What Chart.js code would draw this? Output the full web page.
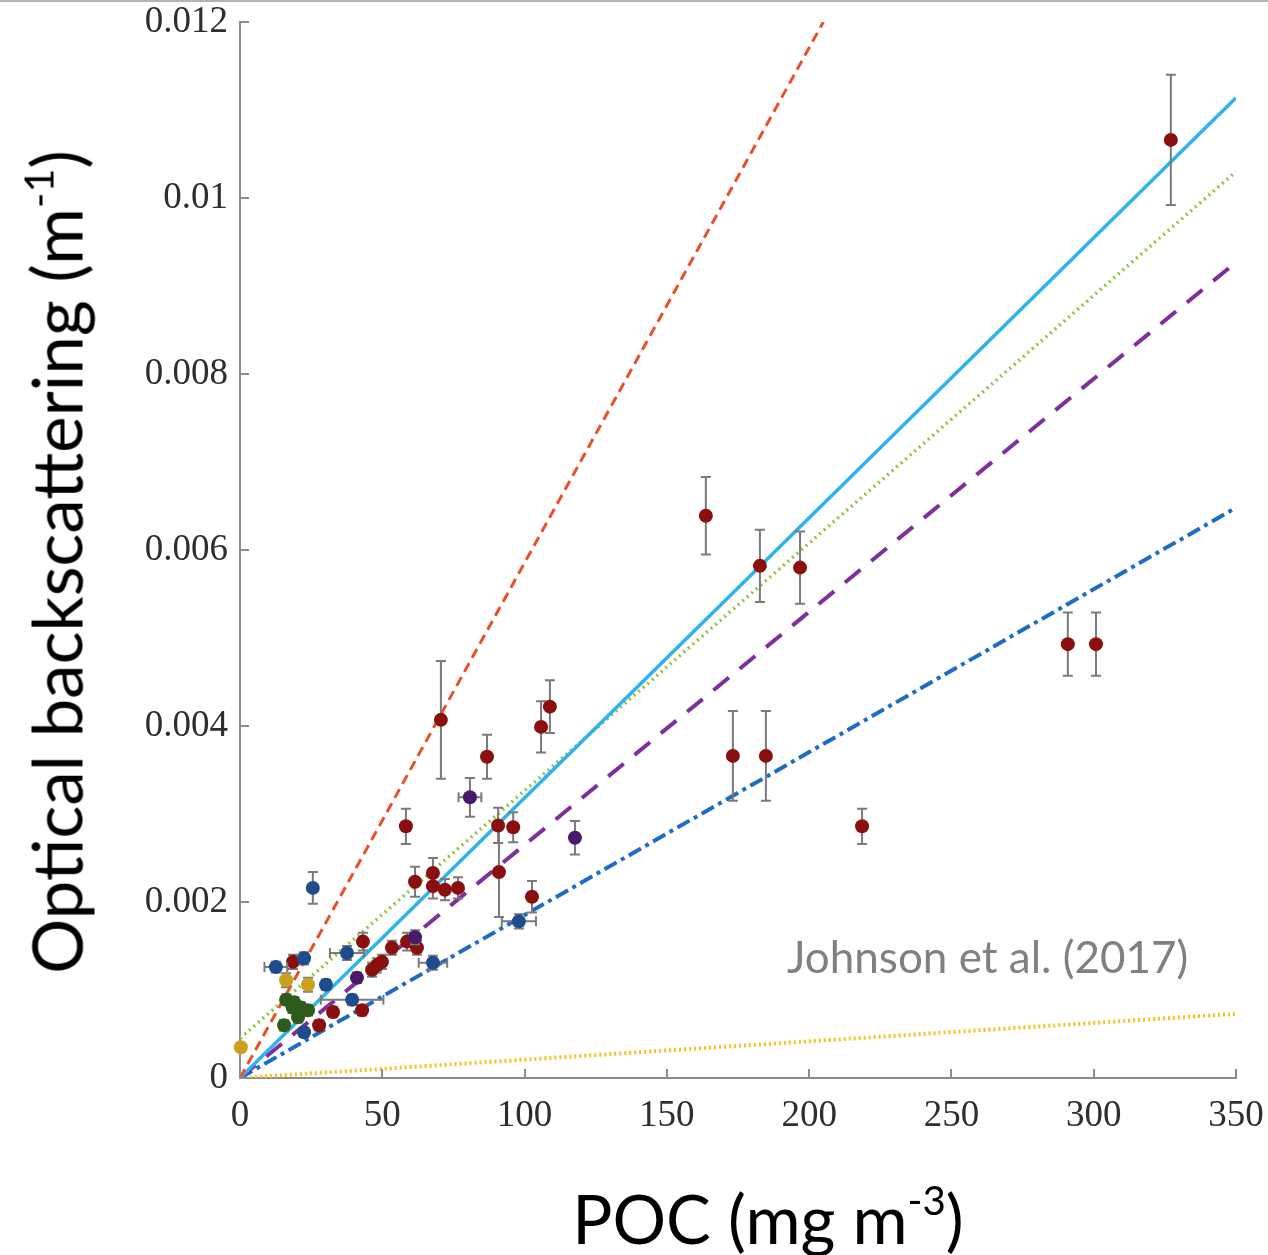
<!DOCTYPE html>
<html>
<head>
<meta charset="utf-8">
<script src="https://cdn.jsdelivr.net/npm/chart.js@4.4.1/dist/chart.umd.min.js"></script>
<style>
  html, body { margin: 0; padding: 0; background: #fff; }
  #wrap { position: relative; width: 1268px; height: 1255px; overflow: hidden; }
  #topline { position: absolute; left: 0; top: 0; width: 1268px; height: 2px; background: #b4b4b4; }
  .txt { position: absolute; font-family: Lato, 'Open Sans', sans-serif; line-height: 1; white-space: nowrap; color: #000; }
  .txt sup { font-size: 0.6em; line-height: 0; vertical-align: 0.7em; }
  #ytitle { left: 56px; top: 562px; font-size: 69px; transform: translate(-50%, -50%) rotate(-90deg); }
  #xtitle { left: 768px; top: 1218px; font-size: 67px; transform: translate(-50%, -50%); }
  #note { left: 787px; top: 934px; font-size: 44px; color: #808080; }
</style>
</head>
<body>
<div id="wrap">
  <canvas id="chart" width="1268" height="1255"></canvas>
  <div id="topline"></div>
  <div class="txt" id="ytitle">Optical backscattering (m<sup>-1</sup>)</div>
  <div class="txt" id="xtitle">POC (mg m<sup>-3</sup>)</div>
  <div class="txt" id="note">Johnson et al. (2017)</div>
</div>
<script>
var X_TICKS = [0, 50, 100, 150, 200, 250, 300, 350];
var Y_TICKS = [0, 0.002, 0.004, 0.006, 0.008, 0.01, 0.012];

// fit lines: start and end points in data units
var lineNames = ['red', 'lightblue', 'green', 'purple', 'blue', 'yellow'];
var lineX0 = [0, 0, 0, 0, 0, 0];
var lineY0 = [0, 0, 0.00045, 0, 0, 0];
var lineX1 = [205, 350, 350, 350, 350, 350];
var lineY1 = [0.012, 0.01114, 0.0103, 0.00927, 0.00648, 0.00073];

// points: [x, y, xErr, yErr]
var redPts = [
  [327.1, 0.01066, 0, 0.00074], [163.7, 0.00639, 0, 0.00044], [182.7, 0.00582, 0, 0.00041],
  [196.8, 0.00580, 0, 0.00041], [173.2, 0.00366, 0, 0.00051], [184.8, 0.00366, 0, 0.00051],
  [218.6, 0.00286, 0, 0.00020], [290.9, 0.00493, 0, 0.00036], [300.8, 0.00493, 0, 0.00036],
  [70.6, 0.00407, 0, 0.00067], [86.8, 0.00365, 0, 0.00025], [105.8, 0.00399, 0, 0.00029],
  [108.9, 0.00422, 0, 0.00030], [58.3, 0.00286, 0, 0.00020], [91.0, 0.00234, 0, 0.00051],
  [96.0, 0.00285, 0, 0.00017], [90.7, 0.00287, 0, 0.00020], [102.6, 0.00206, 0, 0.00018],
  [61.5, 0.00223, 0, 0.00017], [67.8, 0.00233, 0, 0.00017], [67.8, 0.00218, 0, 0.00014],
  [72.0, 0.00214, 0, 0.00012], [76.6, 0.00216, 0, 0.00012], [43.2, 0.00155, 0, 0.00010],
  [53.4, 0.00148, 0, 0.00008], [58.7, 0.00155, 0, 0.00010], [62.2, 0.00148, 0, 0.00008],
  [49.9, 0.00132, 0, 0.00008], [48.1, 0.00128, 0, 0.00008], [46.4, 0.00123, 0, 0.00008],
  [42.9, 0.00077, 0, 0.00006], [32.7, 0.00075, 0, 0.00006], [27.8, 0.00060, 0, 0.00006],
  [18.6, 0.00132, 0, 0.00008]
];
var bluePts = [
  [25.6, 0.00216, 0, 0.00018], [98.0, 0.00178, 6.0, 0.00008], [67.8, 0.00131, 5.0, 0.00008],
  [12.6, 0.00126, 4.0, 0.00006], [22.5, 0.00136, 0, 0.00007], [37.6, 0.00142, 6.0, 0.00008],
  [30.2, 0.00106, 0, 0.00006], [39.4, 0.00089, 11.0, 0.00006], [22.5, 0.00052, 0, 0.00005]
];
var purplePts = [
  [80.8, 0.00319, 4.0, 0.00022], [117.7, 0.00273, 0, 0.00019], [41.1, 0.00114, 0, 0.00006],
  [61.5, 0.00160, 0, 0.00008]
];
var greenPts = [
  [16.2, 0.00089, 0, 0.00006], [19.0, 0.00086, 0, 0.00006], [21.4, 0.00080, 0, 0.00006],
  [23.9, 0.00077, 0, 0.00006], [20.4, 0.00069, 0, 0.00006], [15.5, 0.00060, 0, 0.00006],
  [18.5, 0.00080, 0, 0.00006]
];
var yellowPts = [
  [0.3, 0.00035, 0, 0], [16.2, 0.00111, 0, 0.00008], [23.9, 0.00106, 0, 0.00008]
];

var lineStyles = {
  red: { color: '#e8502a', width: 3, dash: [10, 6] },
  lightblue: { color: '#2fb2ee', width: 3.5, dash: [] },
  green: { color: '#8cc540', width: 3.5, dash: [2, 4] },
  purple: { color: '#7e2f9c', width: 4, dash: [20, 14] },
  blue: { color: '#1f6cc4', width: 4, dash: [14, 5, 4, 5] },
  yellow: { color: '#f6c21c', width: 4, dash: [2, 3] }
};

var datasets = [];

function pointSet(pts, color) {
  return {
    data: pts.map(function (p) { return { x: p[0], y: p[1], ex: p[2], ey: p[3] }; }),
    backgroundColor: color,
    borderColor: color,
    pointRadius: 7,
    pointBorderWidth: 0,
    errorBars: true,
    clip: false,
    order: 0
  };
}

datasets.push(pointSet(greenPts, '#2d5a1d'));
datasets.push(pointSet(yellowPts, '#caa01c'));
datasets.push(pointSet(bluePts, '#1f4c8c'));
datasets.push(pointSet(purplePts, '#4a1a6a'));
datasets.push(pointSet(redPts, '#8a0f0f'));

for (var i = 0; i < lineNames.length; i++) {
  var st = lineStyles[lineNames[i]];
  datasets.push({
    data: [{ x: lineX0[i], y: lineY0[i] }, { x: lineX1[i], y: lineY1[i] }],
    showLine: true,
    borderColor: st.color,
    borderWidth: st.width,
    borderDash: st.dash,
    pointRadius: 0,
    fill: false,
    order: 1
  });
}

var errorBarPlugin = {
  id: 'errorBars',
  beforeDatasetDraw: function (chart, args) {
    var ds = chart.data.datasets[args.index];
    if (!ds.errorBars) return;
    var ctx = chart.ctx, xs = chart.scales.x, ys = chart.scales.y;
    ctx.save();
    ctx.strokeStyle = '#7a7a7a';
    ctx.lineWidth = 2;
    ds.data.forEach(function (d) {
      var px = xs.getPixelForValue(d.x), py = ys.getPixelForValue(d.y);
      ctx.beginPath();
      if (d.ey) {
        var t = ys.getPixelForValue(d.y + d.ey), b = ys.getPixelForValue(d.y - d.ey);
        ctx.moveTo(px, t); ctx.lineTo(px, b);
        ctx.moveTo(px - 5, t); ctx.lineTo(px + 5, t);
        ctx.moveTo(px - 5, b); ctx.lineTo(px + 5, b);
      }
      if (d.ex) {
        var l = xs.getPixelForValue(d.x - d.ex), r = xs.getPixelForValue(d.x + d.ex);
        ctx.moveTo(l, py); ctx.lineTo(r, py);
        ctx.moveTo(l, py - 5); ctx.lineTo(l, py + 5);
        ctx.moveTo(r, py - 5); ctx.lineTo(r, py + 5);
      }
      ctx.stroke();
    });
    ctx.restore();
  }
};

// ticks pointing into the plot
var innerTicksPlugin = {
  id: 'innerTicks',
  afterDraw: function (chart) {
    var ctx = chart.ctx, xs = chart.scales.x, ys = chart.scales.y, a = chart.chartArea;
    ctx.save();
    ctx.strokeStyle = '#8c8c8c';
    ctx.lineWidth = 2;
    ctx.beginPath();
    X_TICKS.forEach(function (v) {
      var px = Math.round(xs.getPixelForValue(v));
      ctx.moveTo(px, a.bottom); ctx.lineTo(px, a.bottom - 9);
    });
    Y_TICKS.forEach(function (v) {
      var py = Math.round(ys.getPixelForValue(v));
      ctx.moveTo(a.left, py); ctx.lineTo(a.left + 9, py);
    });
    ctx.stroke();
    ctx.restore();
  }
};

var tickFont = { family: "'Liberation Serif', 'Times New Roman', serif", size: 37 };

new Chart(document.getElementById('chart'), {
  type: 'scatter',
  data: { datasets: datasets },
  plugins: [errorBarPlugin, innerTicksPlugin],
  options: {
    responsive: false,
    animation: false,
    layout: { padding: { top: 22, right: 32, left: 0, bottom: 0 } },
    plugins: { legend: { display: false }, tooltip: { enabled: false } },
    scales: {
      x: {
        type: 'linear',
        min: 0,
        max: 350,
        afterBuildTicks: function (s) { s.ticks = X_TICKS.map(function (v) { return { value: v }; }); },
        afterFit: function (s) { s.height = 177; s.paddingLeft = 0; s.paddingRight = 0; },
        grid: { display: false, drawTicks: false },
        border: { display: true, color: '#8c8c8c', width: 2 },
        ticks: { font: tickFont, color: '#2e2e2e', padding: 16, maxRotation: 0, autoSkip: false }
      },
      y: {
        type: 'linear',
        min: 0,
        max: 0.012,
        afterBuildTicks: function (s) { s.ticks = Y_TICKS.map(function (v) { return { value: v }; }); },
        afterFit: function (s) { s.width = 240; s.paddingTop = 0; s.paddingBottom = 0; },
        grid: { display: false, drawTicks: false },
        border: { display: true, color: '#8c8c8c', width: 2 },
        ticks: {
          font: tickFont,
          color: '#2e2e2e',
          padding: 12,
          autoSkip: false,
          callback: function (v) { return parseFloat(Number(v).toFixed(3)).toString(); }
        }
      }
    }
  }
});
</script>
</body>
</html>
